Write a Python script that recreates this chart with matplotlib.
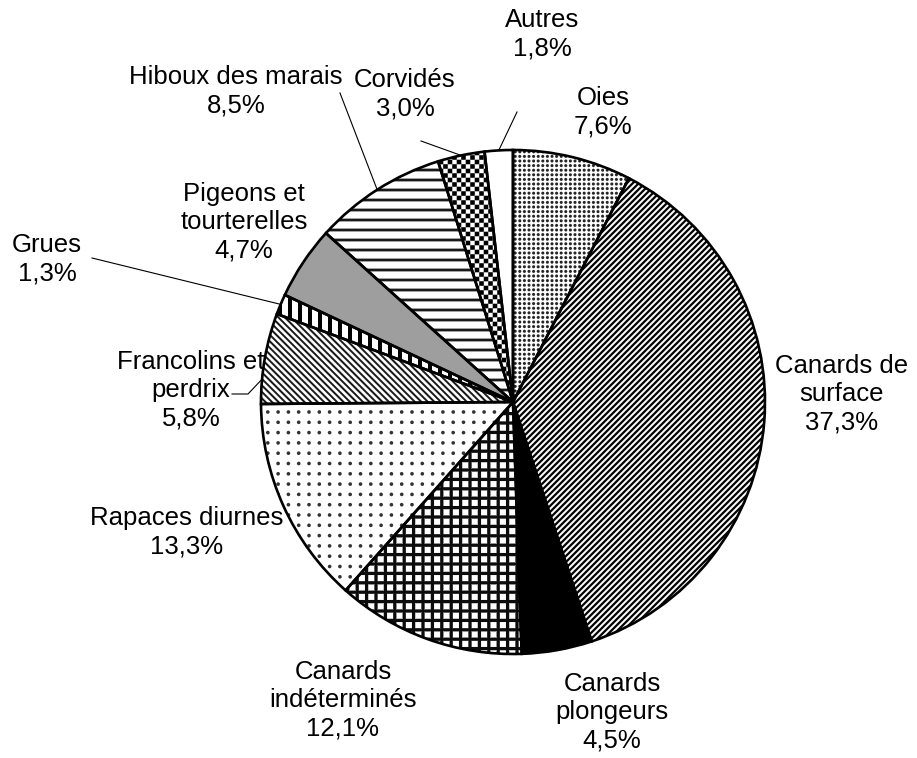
import numpy as np
import matplotlib
matplotlib.use("Agg")
import matplotlib.pyplot as plt

# Bird groups and their share of the total (%)
categories = ["Oies", "Canards de\nsurface", "Canards\nplongeurs", "Canards\nindéterminés",
              "Rapaces diurnes", "Francolins et\nperdrix", "Grues", "Pigeons et\ntourterelles",
              "Hiboux des marais", "Corvidés", "Autres"]
shares = [7.6, 37.3, 4.5, 12.1, 13.3, 5.8, 1.3, 4.7, 8.5, 3.0, 1.8]

W, H = 917, 758
fig = plt.figure(figsize=(W / 100, H / 100), dpi=100)
ax = fig.add_axes([0, 0, 1, 1])

cx, cy, R = 513, H - 402, 252
wedges, _ = ax.pie(shares, startangle=90, counterclock=False, center=(cx, cy), radius=R,
                   wedgeprops=dict(facecolor="none", edgecolor="black", linewidth=1.9,
                                   zorder=3))
ax.set_xlim(0, W)
ax.set_ylim(0, H)
ax.set_aspect("equal")
ax.axis("off")

# ---- fill textures (pixel grid, y downward) ----
Y, X = np.mgrid[0:H, 0:W] + 0.5


def lines(s, period, width):
    d = np.abs(((s / period) + 0.5) % 1 - 0.5) * period
    return np.clip(width / 2 - d + 0.5, 0, 1)


def dots(px, py, radius, ox=0.0, oy=0.0):
    dx = (((X - ox) / px + 0.5) % 1 - 0.5) * px
    dy = (((Y - oy) / py + 0.5) % 1 - 0.5) * py
    d = np.hypot(dx, dy)
    return np.clip(radius - d + 0.5, 0, 1)


def squares(period, half, ox=0.0, oy=0.0):
    dx = np.abs((((X - ox) / period + 0.5) % 1 - 0.5) * period)
    dy = np.abs((((Y - oy) / period + 0.5) % 1 - 0.5) * period)
    return np.clip(half - dx + 0.5, 0, 1) * np.clip(half - dy + 0.5, 0, 1)


def shade(ink, tone):
    return 1 - ink * (1 - tone)


r2 = np.sqrt(2)
textures = [
    shade(dots(4.6, 4.6, 1.5), 0.15),                                   # Oies
    shade(lines((X + Y) / r2, 6.0 / r2, 2.2), 0.0),                      # Canards de surface
    np.zeros((H, W)),                                                   # Canards plongeurs
    shade(np.maximum(lines(X, 9.4, 3.3), lines(Y, 9.4, 3.3)), 0.05),    # Canards indéterminés
    shade(dots(10.3, 10.3, 1.8), 0.2),                                  # Rapaces diurnes
    shade(lines((X - Y) / r2, 6.5 / r2, 2.0), 0.1),                      # Francolins et perdrix
    shade(lines(X, 10.0, 4.0), 0.0),                                    # Grues
    np.full((H, W), 0.62),                                              # Pigeons et tourterelles
    shade(lines(Y, 10.0, 2.8), 0.1),                                    # Hiboux des marais
    shade(np.maximum(squares(9.0, 2.3), squares(9.0, 2.3, 4.5, 4.5)), 0.0),  # Corvidés
    np.ones((H, W)),                                                    # Autres
]

for wedge, tex in zip(wedges, textures):
    im = ax.imshow(tex, extent=(0, W, 0, H), origin="upper", cmap="gray", vmin=0, vmax=1,
                   interpolation="nearest", zorder=2)
    im.set_clip_path(wedge)

ax.set_xlim(0, W)
ax.set_ylim(0, H)

# ---- labels (pixel positions, y from top) ----
label_pos = [(603, 112), (842, 394), (612, 712), (343, 700), (187, 532), (191, 390),
             (47, 259), (244, 222), (236, 91), (405, 94), (542, 34)]

for cat, val, (lx, ly) in zip(categories, shares, label_pos):
    txt = f"{cat}\n{val:.1f}%".replace(".", ",")
    ax.text(lx, H - ly, txt, ha="center", va="center", multialignment="center",
            fontsize=18.5, family="Liberation Sans", linespacing=1.22, zorder=5)

# ---- leader lines: start point near the label, end on the wedge rim ----
# (wedge index, bend points in pixels, position along the wedge arc 0..1)
leaders = [
    (10, [(517, 112)], 0.5),
    (9, [(421, 141)], 0.5),
    (8, [(340, 93)], 0.5),
    (6, [(92, 258)], 0.5),
    (5, [(232, 394), (248, 394)], 0.27),
]
for idx, pts, frac in leaders:
    w = wedges[idx]
    ang = np.deg2rad(w.theta2 - frac * (w.theta2 - w.theta1))
    ex, ey = cx + R * np.cos(ang), cy + R * np.sin(ang)
    xs = [p[0] for p in pts] + [ex]
    ys = [H - p[1] for p in pts] + [ey]
    ax.plot(xs, ys, color="black", linewidth=0.8, zorder=4, clip_on=False)

fig.savefig("out.png", dpi=100, facecolor="white")
